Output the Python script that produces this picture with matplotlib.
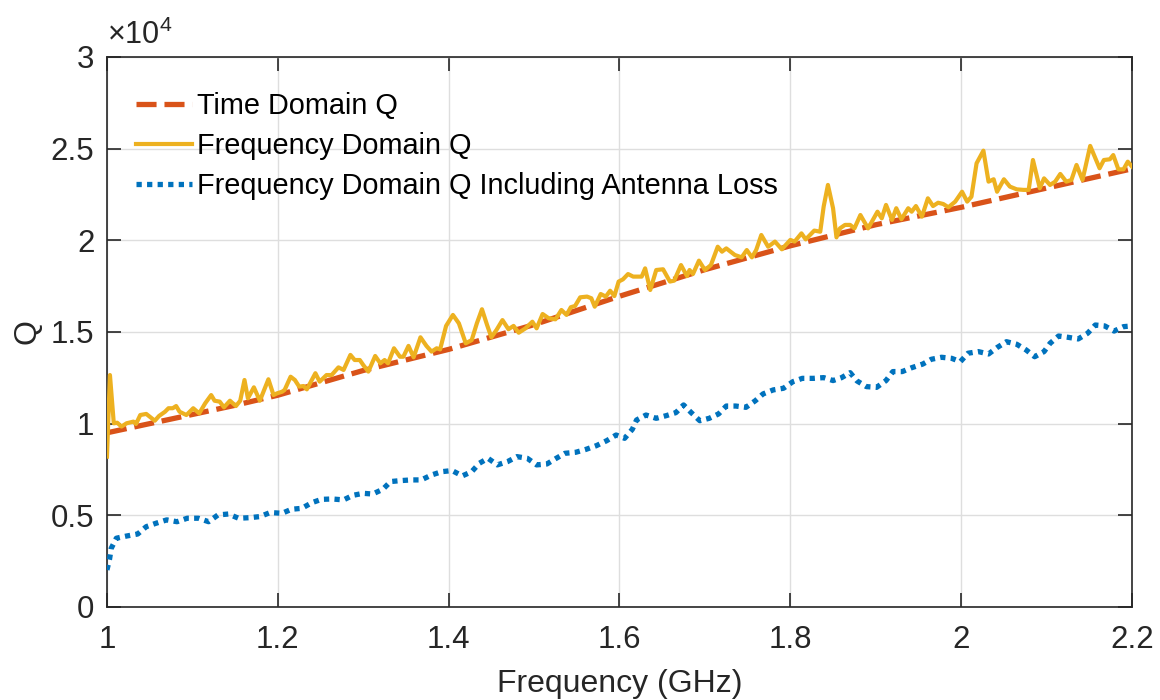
import numpy as np
import matplotlib
matplotlib.use('Agg')
import matplotlib.pyplot as plt
from matplotlib.ticker import FuncFormatter

# Time domain Q (read in thousands)
f_time = [1.0, 1.1, 1.15, 1.2, 1.3, 1.4, 1.5, 1.6, 1.7, 1.8, 1.9, 2.0, 2.1, 2.2]
q_time_k = [9.5, 10.5, 11.0, 11.55, 12.9, 14.05, 15.4, 16.95, 18.4, 19.7, 20.85, 21.8, 22.85, 23.9]

# Frequency domain Q (read in thousands)
f_freq = [1.0, 1.0035, 1.008, 1.012, 1.017, 1.023, 1.031, 1.034, 1.039, 1.046, 1.050, 1.056,
          1.061, 1.068, 1.072, 1.077, 1.081, 1.085, 1.093, 1.101, 1.108, 1.115, 1.122, 1.126,
          1.132, 1.137, 1.144, 1.151, 1.156, 1.161, 1.165, 1.172, 1.179, 1.189, 1.195, 1.199,
          1.205, 1.208, 1.215, 1.220, 1.225, 1.230, 1.234, 1.244, 1.249, 1.257, 1.263, 1.271,
          1.277, 1.285, 1.290, 1.296, 1.300, 1.306, 1.314, 1.320, 1.325, 1.329, 1.336, 1.343,
          1.347, 1.353, 1.359, 1.367, 1.374, 1.380, 1.386, 1.390, 1.397, 1.405, 1.412, 1.420,
          1.427, 1.433, 1.439, 1.445, 1.450, 1.456, 1.463, 1.470, 1.476, 1.482, 1.490, 1.498,
          1.503, 1.510, 1.517, 1.525, 1.532, 1.538, 1.543, 1.548, 1.554, 1.562, 1.567, 1.571,
          1.578, 1.584, 1.589, 1.594, 1.599, 1.604, 1.610, 1.616, 1.626, 1.630, 1.636, 1.643,
          1.651, 1.659, 1.664, 1.672, 1.679, 1.682, 1.686, 1.693, 1.700, 1.707, 1.715, 1.720,
          1.725, 1.735, 1.743, 1.749, 1.755, 1.760, 1.766, 1.774, 1.782, 1.790, 1.800, 1.805,
          1.813, 1.818, 1.828, 1.835, 1.839, 1.844, 1.850, 1.854, 1.858, 1.864, 1.870, 1.875,
          1.882, 1.891, 1.902, 1.907, 1.912, 1.919, 1.924, 1.930, 1.938, 1.942, 1.947, 1.954,
          1.961, 1.967, 1.973, 1.979, 1.985, 1.993, 2.001, 2.007, 2.012, 2.018, 2.026, 2.032,
          2.038, 2.042, 2.050, 2.057, 2.065, 2.073, 2.079, 2.084, 2.092, 2.097, 2.104, 2.110,
          2.116, 2.123, 2.129, 2.135, 2.142, 2.151, 2.162, 2.167, 2.174, 2.178, 2.184, 2.190,
          2.195, 2.2]
q_freq_k = [8.2, 12.65, 10.02, 10.05, 9.84, 10.02, 10.11, 9.98, 10.47, 10.53, 10.38, 10.16,
            10.42, 10.65, 10.84, 10.84, 10.96, 10.65, 10.47, 10.84, 10.56, 11.11, 11.56, 11.25,
            11.2, 10.89, 11.25, 10.96, 11.25, 12.38, 11.38, 11.98, 11.25, 12.42, 11.56, 11.65,
            11.74, 11.84, 12.56, 12.38, 12.02, 12.05, 11.87, 12.75, 12.29, 12.65, 12.65, 13.07,
            12.93, 13.75, 13.47, 13.47, 13.2, 12.84, 13.69, 13.29, 13.47, 13.29, 14.11, 13.65,
            13.65, 14.24, 13.62, 14.71, 14.24, 13.93, 14.11, 14.05, 15.33, 15.93, 15.47, 14.38,
            14.56, 15.47, 16.24, 15.38, 14.71, 15.11, 15.65, 15.15, 15.33, 14.96, 15.2, 15.56,
            15.2, 15.98, 15.75, 15.69, 16.2, 15.93, 16.35, 16.42, 16.89, 16.93, 16.84, 16.38,
            17.07, 16.93, 17.25, 16.96, 17.75, 17.87, 18.16, 18.02, 18.02, 18.47, 17.29, 18.38,
            18.42, 17.75, 17.8, 18.65, 18.05, 18.38, 18.16, 18.89, 18.38, 18.65, 19.65, 19.38,
            19.56, 19.2, 19.07, 19.47, 19.07, 19.47, 20.29, 19.65, 19.93, 19.51, 20.02, 19.93,
            20.38, 20.05, 20.53, 20.47, 21.84, 23.02, 21.75, 20.16, 20.65, 20.84, 20.84, 20.65,
            21.38, 20.65, 21.56, 21.2, 21.93, 21.11, 21.75, 21.15, 21.75, 21.56, 21.87, 21.29,
            22.29, 21.87, 22.05, 21.98, 21.8, 22.11, 22.65, 22.11, 22.38, 24.2, 24.89, 23.2,
            23.33, 22.65, 23.33, 22.93, 22.78, 22.75, 22.75, 24.38, 22.84, 23.38, 23.02, 23.2,
            23.62, 23.2, 23.29, 24.11, 23.29, 25.15, 23.93, 24.38, 24.42, 24.65, 23.87, 23.87,
            24.29, 24.02]

# Frequency domain Q including antenna loss (read in thousands)
f_loss = [1.0, 1.003, 1.005, 1.011, 1.023, 1.036, 1.046, 1.057, 1.070, 1.082, 1.094, 1.107,
          1.119, 1.130, 1.142, 1.154, 1.167, 1.179, 1.191, 1.205, 1.216, 1.228, 1.240, 1.251,
          1.264, 1.277, 1.288, 1.300, 1.311, 1.323, 1.332, 1.343, 1.356, 1.368, 1.380, 1.392,
          1.404, 1.416, 1.427, 1.436, 1.446, 1.457, 1.469, 1.480, 1.492, 1.503, 1.515, 1.526,
          1.536, 1.549, 1.561, 1.573, 1.585, 1.596, 1.606, 1.615, 1.620, 1.631, 1.643, 1.655,
          1.666, 1.675, 1.684, 1.694, 1.705, 1.716, 1.725, 1.736, 1.748, 1.759, 1.768, 1.780,
          1.792, 1.803, 1.814, 1.827, 1.839, 1.850, 1.860, 1.870, 1.878, 1.889, 1.901, 1.912,
          1.920, 1.931, 1.942, 1.955, 1.965, 1.977, 1.989, 1.999, 2.008, 2.020, 2.032, 2.042,
          2.053, 2.065, 2.076, 2.086, 2.097, 2.104, 2.114, 2.125, 2.137, 2.148, 2.157, 2.168,
          2.179, 2.190, 2.2]
q_loss_k = [2.02, 2.6, 3.2, 3.75, 3.87, 3.98, 4.38, 4.56, 4.75, 4.65, 4.84, 4.84,
            4.65, 5.02, 5.07, 4.84, 4.87, 4.93, 5.15, 5.11, 5.33, 5.38, 5.69, 5.87,
            5.89, 5.84, 6.09, 6.2, 6.16, 6.42, 6.84, 6.89, 6.93, 6.93, 7.2, 7.38,
            7.44, 7.15, 7.38, 7.84, 8.11, 7.75, 7.93, 8.2, 8.11, 7.75, 7.8, 8.11,
            8.38, 8.44, 8.6, 8.8, 9.07, 9.38, 9.2, 9.69, 10.2, 10.47, 10.29, 10.44,
            10.6, 11.02, 10.6, 10.16, 10.29, 10.53, 10.96, 10.96, 10.89, 11.25, 11.62, 11.84,
            11.93, 12.29, 12.47, 12.47, 12.51, 12.35, 12.51, 12.78, 12.33, 12.02, 11.98, 12.35,
            12.84, 12.84, 13.05, 13.25, 13.51, 13.62, 13.56, 13.38, 13.84, 13.93, 13.8, 14.15,
            14.47, 14.33, 14.02, 13.65, 13.93, 14.38, 14.78, 14.71, 14.62, 14.93, 15.38, 15.33,
            15.05, 15.29, 15.33]

labels = ['Time Domain Q', 'Frequency Domain Q', 'Frequency Domain Q Including Antenna Loss']
xticks = [1, 1.2, 1.4, 1.6, 1.8, 2, 2.2]
yticks = [0, 5000, 10000, 15000, 20000, 25000, 30000]

plt.rcParams['font.family'] = ['Liberation Sans', 'DejaVu Sans']
plt.rcParams['mathtext.fontset'] = 'custom'
plt.rcParams['mathtext.rm'] = 'Liberation Sans'
plt.rcParams['mathtext.it'] = 'Liberation Sans'

fig = plt.figure(figsize=(11.6, 7), dpi=100)
ax = fig.add_axes([0.0922, 0.1329, 0.8837, 0.7857])

ax.plot(f_time, np.array(q_time_k) * 1e3, color='#D95319', lw=3.8,
        linestyle=(0, (3.8, 1.5)), dash_capstyle='butt', label=labels[0], zorder=3)
ax.plot(f_freq, np.array(q_freq_k) * 1e3, color='#EDB120', lw=3.0,
        label=labels[1], zorder=4)
ax.plot(f_loss, np.array(q_loss_k) * 1e3, color='#0072BD', lw=3.8,
        linestyle=(0, (1, 1)), dash_capstyle='butt', label=labels[2], zorder=3)

ax.set_xlim(1, 2.2)
ax.set_ylim(0, 30000)
ax.set_xticks(xticks)
ax.set_yticks(yticks)
ax.xaxis.set_major_formatter(FuncFormatter(lambda v, p: '%g' % v))
ax.yaxis.set_major_formatter(FuncFormatter(lambda v, p: '%g' % (v / 1e4)))
ax.grid(True, color='#dedede', lw=1.0)
ax.set_axisbelow(True)
ax.tick_params(direction='in', length=10, width=1.2, top=True, right=True,
               labelsize=22.5, colors='#262626', pad=9)
ax.tick_params(axis='x', pad=13)
for s in ax.spines.values():
    s.set_color('#262626')
    s.set_linewidth(1.2)

ax.set_xlabel('Frequency (GHz)', fontsize=23, color='#262626', labelpad=10)
ax.set_ylabel('Q', fontsize=23, color='#262626', labelpad=6)
ax.text(0.0, 1.01, r'$\times10^{4}$', transform=ax.transAxes, fontsize=22,
        color='#262626', ha='left', va='bottom')

ax.legend(loc='upper left', bbox_to_anchor=(0.017, 0.958), frameon=False, fontsize=20.8,
          handlelength=1.95, handletextpad=0.18, labelspacing=0.42, borderaxespad=0)

fig.savefig('out.png', dpi=100)
